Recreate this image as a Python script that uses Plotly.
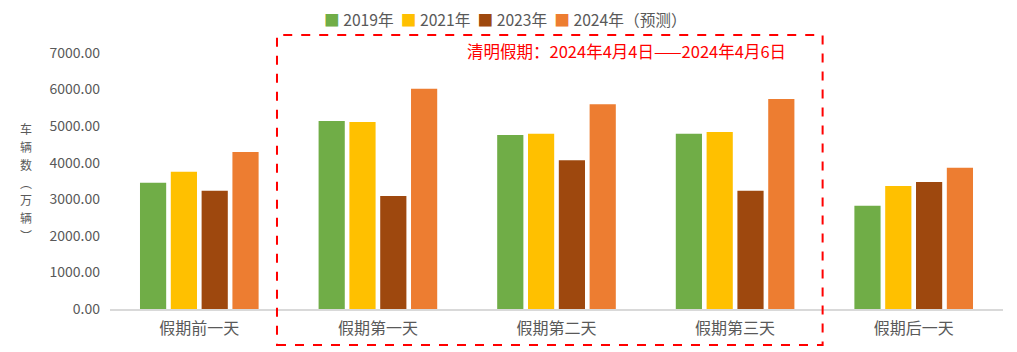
import plotly.graph_objects as go

categories = ["假期前一天", "假期第一天", "假期第二天", "假期第三天", "假期后一天"]
series_names = ["2019年", "2021年", "2023年", "2024年（预测）"]
v2019 = [3450, 5140, 4760, 4790, 2820]
v2021 = [3750, 5110, 4790, 4840, 3360]
v2023 = [3230, 3090, 4070, 3230, 3470]
v2024 = [4290, 6020, 5600, 5740, 3860]
colors = ["#70ad47", "#ffc000", "#9e480e", "#ed7d31"]
tick_vals = [0, 1000, 2000, 3000, 4000, 5000, 6000, 7000]
tick_text = ["%.2f" % v for v in tick_vals]
y_title = "车辆数︵万辆︶"

FONT = "Noto Sans CJK SC"
GRAY = "#595959"

fig = go.Figure()
for name, vals, c in zip(series_names, [v2019, v2021, v2023, v2024], colors):
    fig.add_trace(go.Bar(x=categories, y=vals, name=name, marker=dict(color=c, line=dict(width=0))))

fig.update_layout(
    width=1017, height=352,
    margin=dict(l=110, r=14, t=53, b=43, autoexpand=False),
    paper_bgcolor="white", plot_bgcolor="white",
    barmode="group", bargap=0.31, bargroupgap=0.15,
    font=dict(family=FONT, color=GRAY, size=14),
    showlegend=False,
    xaxis=dict(showgrid=False, showline=True, linecolor="#d9d9d9", linewidth=1.5,
               ticks="", tickfont=dict(size=16, color=GRAY), ticklabelstandoff=4),
    yaxis=dict(range=[0, 7000], tickvals=tick_vals, ticktext=tick_text, showgrid=False,
               showline=False, zeroline=False, ticks="", ticklen=0,
               tickfont=dict(size=14, color=GRAY), ticklabelstandoff=9),
)

# legend built as text
legend_parts = []
for name, c in zip(series_names, colors):
    legend_parts.append("<span style='color:%s'>■</span> %s" % (c, name))
fig.add_annotation(xref="paper", yref="paper", x=0.4425, y=1.129, showarrow=False,
                   xanchor="center", yanchor="middle",
                   text="  ".join(legend_parts), font=dict(size=15.7, color=GRAY, family=FONT))

fig.add_shape(type="rect", xref="paper", yref="paper", x0=0.187, x1=0.798, y0=-0.1406, y1=1.0703,
              line=dict(color="#ff0000", width=2, dash="dash"), fillcolor="rgba(0,0,0,0)")

fig.add_annotation(xref="paper", yref="paper", x=0.578, y=1.008, showarrow=False,
                   xanchor="center", yanchor="middle",
                   text="清明假期：2024年4月4日——2024年4月6日",
                   font=dict(size=16.5, color="#ff0000", family=FONT))

# vertical y-axis title, one character per annotation
n = len(y_title)
step = 17.8
for i, ch in enumerate(y_title):
    ypix = 182 + (i - (n - 1) / 2) * step
    fig.add_annotation(xref="paper", yref="paper", x=(26 - 110) / 893, y=(309 - ypix) / 256,
                       showarrow=False, xanchor="center", yanchor="middle", borderpad=0,
                       text=ch, font=dict(size=12, color=GRAY, family=FONT))

fig.write_html("out.html")
